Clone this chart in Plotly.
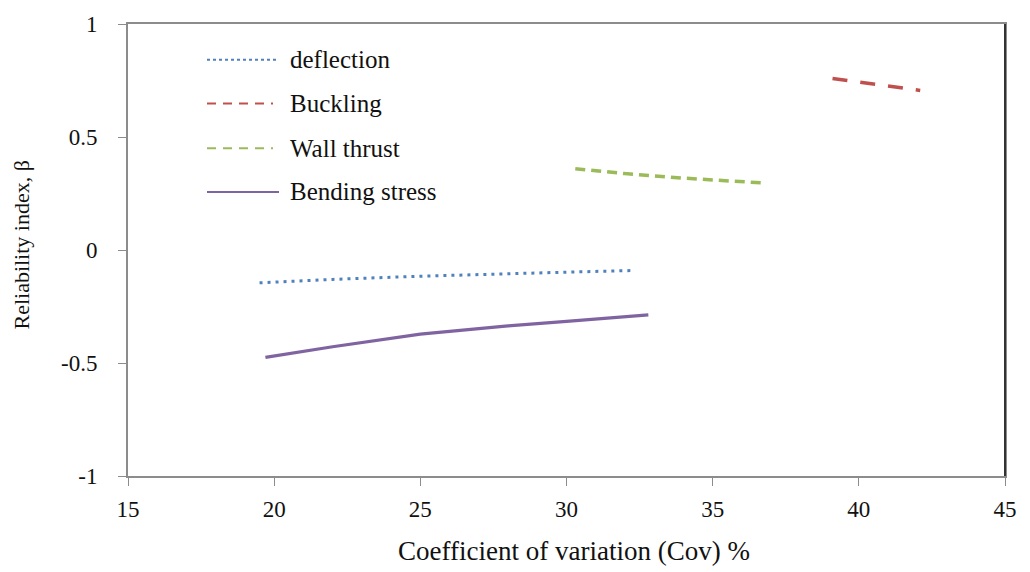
import plotly.graph_objects as go

# Coefficient of variation (%) and reliability index for each limit state
deflection_cov = [19.5, 22.0, 25.0, 27.5, 30.0, 32.2]
deflection_beta = [-0.145, -0.130, -0.116, -0.106, -0.098, -0.091]

buckling_cov = [39.1, 40.0, 41.0, 42.1]
buckling_beta = [0.759, 0.742, 0.725, 0.706]

wall_thrust_cov = [30.3, 32.0, 34.0, 36.8]
wall_thrust_beta = [0.360, 0.338, 0.318, 0.296]

bending_cov = [19.7, 22.0, 25.0, 28.0, 30.0, 32.8]
bending_beta = [-0.475, -0.428, -0.372, -0.336, -0.316, -0.287]

x_ticks = [15, 20, 25, 30, 35, 40, 45]
y_ticks = [-1, -0.5, 0, 0.5, 1]
y_tick_text = ["-1", "-0.5", "0", "0.5", "1"]

series_names = ["deflection", "Buckling", "Wall thrust", "Bending stress"]

FONT = "Liberation Serif, Times New Roman, serif"
GRAY = "#8c8c8c"

W, H = 1030, 572
L, R, T, B = 128, 25, 21, 96
PW, PH = W - L - R, H - T - B


def px_x(p):
    return (p - L) / PW


def px_y(p):
    return (H - B - p) / PH


styles = [
    dict(color="#4F81BD", width=3, dash="3px,5px"),
    dict(color="#C0504D", width=3.5, dash="15px,13px"),
    dict(color="#9BBB59", width=3.5, dash="10px,6px"),
    dict(color="#8064A2", width=3.2),
]
legend_dash = ["3px,3px", "9px,7px", "9px,7px", "solid"]
data = [
    (deflection_cov, deflection_beta),
    (buckling_cov, buckling_beta),
    (wall_thrust_cov, wall_thrust_beta),
    (bending_cov, bending_beta),
]

fig = go.Figure()
for name, (xs, ys), st in zip(series_names, data, styles):
    fig.add_trace(go.Scatter(x=xs, y=ys, mode="lines", name=name,
                             line=st, showlegend=False))

# right border of the plot frame
fig.add_shape(type="line", xref="paper", yref="paper", x0=1, x1=1, y0=0, y1=1,
              line=dict(color="#333333", width=2))

# legend: line samples with labels
legend_rows = [57, 101, 146, 190]
legend_ends = [279, 273, 273, 279]
for name, st, dash, row, end in zip(series_names, styles, legend_dash,
                                    legend_rows, legend_ends):
    fig.add_shape(type="line", xref="paper", yref="paper",
                  x0=px_x(207), x1=px_x(end), y0=px_y(row), y1=px_y(row),
                  line=dict(color=st["color"], width=2, dash=dash))
    fig.add_annotation(xref="paper", yref="paper", x=px_x(288), y=px_y(row),
                       xanchor="left", yanchor="middle", text=name, showarrow=False,
                       font=dict(family=FONT, size=25, color="#111111"))

# axis titles
fig.add_annotation(xref="paper", yref="paper", x=px_x(574), y=px_y(552),
                   xanchor="center", yanchor="middle", showarrow=False,
                   text="Coefficient of variation (Cov) %",
                   font=dict(family=FONT, size=27, color="#111111"))
fig.add_annotation(xref="paper", yref="paper", x=px_x(22), y=px_y(244),
                   xanchor="center", yanchor="middle", showarrow=False, textangle=-90,
                   text="Reliability index, β",
                   font=dict(family=FONT, size=22, color="#111111"))

fig.update_layout(
    width=W, height=H,
    margin=dict(l=L, r=R, t=T, b=B),
    paper_bgcolor="white", plot_bgcolor="white",
    font=dict(family=FONT, size=23, color="#111111"),
    showlegend=False,
    xaxis=dict(range=[15, 45], tickvals=x_ticks, ticks="outside", ticklen=8,
               tickcolor=GRAY, showline=True, linecolor=GRAY, linewidth=2,
               mirror=True, showgrid=False, zeroline=False,
               ticklabelstandoff=3),
    yaxis=dict(range=[-1, 1], tickvals=y_ticks, ticktext=y_tick_text,
               ticks="outside", ticklen=8, tickcolor=GRAY, showline=True,
               linecolor=GRAY, linewidth=2, mirror=True, showgrid=False,
               zeroline=False, ticklabelstandoff=16),
)

fig.write_html("out.html")
